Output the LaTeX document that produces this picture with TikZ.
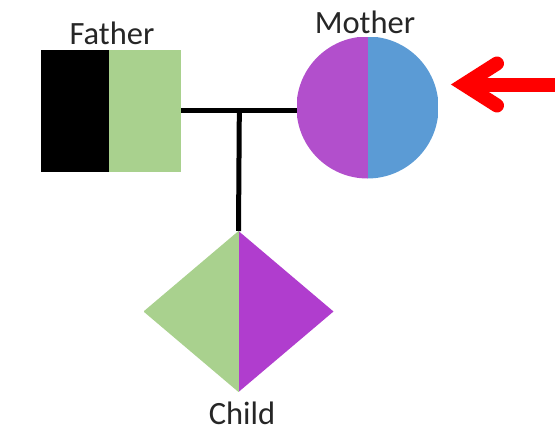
\documentclass[tikz,border=0pt]{standalone}
\usepackage{fontspec}
\setmainfont{Carlito}
\usetikzlibrary{shapes.geometric}
\definecolor{pgreen}{HTML}{A9D18E}
\definecolor{pblue}{HTML}{5B9BD5}
\definecolor{ppurple}{HTML}{B24FCC}
\definecolor{cpurple}{HTML}{B03DCE}
\tikzset{
  shapebox/.style={inner sep=0pt, outer sep=0pt, draw=none},
  lbl/.style={font=\fontsize{32.5}{36}\selectfont, inner sep=0pt, text=black!85},
  link/.style={line width=5pt, black},
  pointer/.style={line width=14pt, red}
}
\begin{document}
\begin{tikzpicture}[x=1pt,y=-1pt]
\useasboundingbox (0,0) rectangle (558,431);
% Father
\node[shapebox, rectangle, minimum width=140pt, minimum height=122pt,
  path picture={
    \fill[black] (path picture bounding box.north west) rectangle ([xshift=-72pt]path picture bounding box.south east);
    \fill[pgreen] ([xshift=-72pt]path picture bounding box.north east) rectangle (path picture bounding box.south east);
  }] (father) at (111,111) {};
% Mother
\node[shapebox, circle, minimum size=142pt,
  path picture={
    \fill[ppurple] (path picture bounding box.north west) rectangle (path picture bounding box.south);
    \fill[pblue] (path picture bounding box.north) rectangle (path picture bounding box.south east);
  }] (mother) at (367.5,107.5) {};
% Child
\node[shapebox, diamond, minimum width=190pt, minimum height=161pt,
  path picture={
    \fill[pgreen] (path picture bounding box.north west) rectangle (path picture bounding box.south);
    \fill[cpurple] (path picture bounding box.north) rectangle (path picture bounding box.south east);
  }] (child) at (238.5,311.5) {};
% Labels
\node[lbl, anchor=base] (flbl) at (112,45) {Father};
\node[lbl, anchor=base] (mlbl) at (365,33) {Mother};
\node[lbl, anchor=base] (clbl) at (242,424) {Child};
% Connectors
\draw[link] ([yshift=1pt]father.east) -- ([yshift=1pt]father.east -| mother.west) coordinate[pos=0.505] (junction);
\draw[link] (junction) -- (child.north);
% Red arrow
\coordinate (avertex) at (464,84.5);
\coordinate (aend) at (555,84.5);
\draw[pointer, line cap=round, line join=miter, miter limit=10] (497,63.5) -- (avertex) -- (497,105.5);
\draw[pointer, line cap=butt] (avertex) -- (aend);
\end{tikzpicture}
\end{document}
